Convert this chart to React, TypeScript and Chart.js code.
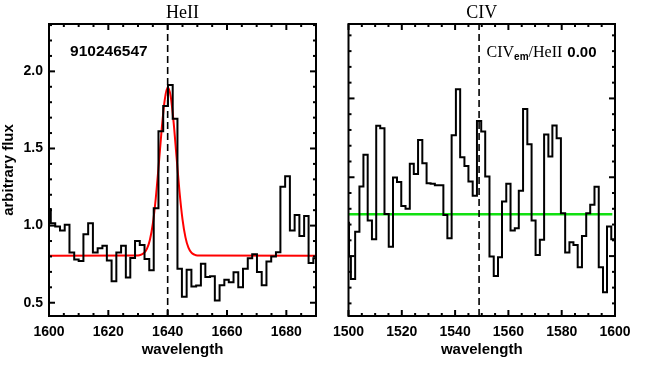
import React, { useEffect, useRef } from 'react';
import { Chart, registerables } from 'chart.js';

Chart.register(...registerables);

// ---------------- HeII panel data ----------------
const heiiBinEdges = [1599.0, 1600.6, 1602.1, 1603.7, 1605.3, 1606.9, 1608.5, 1610.0, 1611.6, 1613.2, 1614.8, 1616.4, 1618.0, 1619.5, 1621.1, 1622.7, 1624.3, 1625.9, 1627.4, 1629.0, 1630.6, 1632.2, 1633.8, 1635.3, 1636.9, 1638.5, 1640.1, 1641.7, 1643.3, 1644.8, 1646.4, 1648.0, 1649.6, 1651.2, 1652.7, 1654.3, 1655.9, 1657.5, 1659.1, 1660.6, 1662.2, 1663.8, 1665.4, 1667.0, 1668.5, 1670.1, 1671.7, 1673.3, 1674.9, 1676.5, 1678.0, 1679.6, 1681.2, 1682.8, 1684.4, 1686.0, 1687.5, 1689.1, 1690.7];
const heiiFlux = [1.107, 1.015, 0.994, 0.968, 1.006, 0.826, 0.780, 0.770, 0.944, 1.015, 0.826, 0.853, 0.869, 0.774, 0.639, 0.826, 0.869, 0.663, 0.790, 0.900, 0.875, 0.783, 0.710, 1.112, 1.611, 1.776, 1.912, 1.692, 0.720, 0.538, 0.714, 0.606, 0.611, 0.753, 0.667, 0.671, 0.514, 0.613, 0.649, 0.632, 0.697, 0.600, 0.720, 0.789, 0.815, 0.699, 0.613, 0.768, 0.800, 0.828, 1.252, 1.320, 0.968, 1.069, 0.933, 1.062, 0.757, 0.789];
const heiiFitWave = [1600, 1630, 1631, 1632, 1633, 1634, 1635, 1636, 1637, 1638, 1639, 1640, 1641, 1642, 1643, 1644, 1645, 1646, 1647, 1648, 1649, 1650, 1690];
const heiiFitFlux = [0.805, 0.807, 0.811, 0.822, 0.849, 0.907, 1.012, 1.179, 1.396, 1.628, 1.814, 1.895, 1.840, 1.671, 1.443, 1.218, 1.041, 0.924, 0.857, 0.825, 0.812, 0.807, 0.805];
const heiiLineCenter = 1640;
const heiiXRange = [1600, 1690];
const heiiYRange = [0.414, 2.307];
const heiiXTicks = [1600, 1620, 1640, 1660, 1680];
const heiiYTicks = [0.5, 1.0, 1.5, 2.0];
const heiiObjectId = '910246547';

// ---------------- CIV panel data ----------------
const civBinEdges = [1497.7, 1500.2, 1500.9, 1502.5, 1504.1, 1505.6, 1507.2, 1508.8, 1510.4, 1511.9, 1513.5, 1515.1, 1516.7, 1518.2, 1519.8, 1521.4, 1523.0, 1524.5, 1526.1, 1527.7, 1529.3, 1530.8, 1532.4, 1534.0, 1535.6, 1537.1, 1538.7, 1540.3, 1541.9, 1543.5, 1545.0, 1546.6, 1548.2, 1549.8, 1551.3, 1552.9, 1554.5, 1556.1, 1557.6, 1559.2, 1560.8, 1562.4, 1563.9, 1565.5, 1567.1, 1568.7, 1570.2, 1571.8, 1573.4, 1575.0, 1576.5, 1578.1, 1579.7, 1581.3, 1582.9, 1584.4, 1586.0, 1587.6, 1589.2, 1590.7, 1592.3, 1593.9, 1595.5, 1597.0, 1598.6, 1600.2];
const civFlux = [0.712, 0.497, 0.355, 0.655, 0.941, 1.142, 0.725, 0.607, 1.326, 1.311, 0.767, 0.560, 0.998, 0.970, 0.818, 0.801, 1.085, 1.021, 1.237, 1.089, 0.962, 0.958, 0.949, 0.950, 0.761, 0.613, 1.266, 1.558, 1.127, 1.072, 0.973, 0.882, 1.357, 1.290, 1.004, 0.497, 0.374, 0.493, 0.846, 0.958, 0.662, 0.677, 0.915, 1.433, 1.209, 0.725, 0.507, 0.603, 1.271, 1.131, 1.328, 1.247, 0.772, 0.522, 0.588, 0.571, 0.429, 0.628, 0.772, 0.825, 0.939, 0.429, 0.271, 0.687, 0.607];
const civContWave = [1500, 1599];
const civContFlux = [0.765, 0.765];
const civLineCenter = 1549;
const civXRange = [1500, 1600];
const civYRange = [0.12, 1.972];
const civXTicks = [1500, 1520, 1540, 1560, 1580, 1600];
const civRatioValue = '0.00';

const SANS = '"Liberation Sans", Arial, sans-serif';
const SERIF = '"Liberation Serif", "Times New Roman", serif';

type Part = { text: string; font: string; dy?: number; gap?: number };
type Label = { x: number; y: number; parts: Part[] };

const idlFrame = {
  id: 'idlFrame',
  afterDatasetsDraw(chart: any, _args: any, opts: any) {
    const { ctx, chartArea } = chart;
    const { left, right, top, bottom } = chartArea;
    const xs = chart.scales.x;
    const ys = chart.scales.y;
    ctx.save();
    ctx.strokeStyle = '#000';
    ctx.lineWidth = 2;
    ctx.lineCap = 'butt';
    const seg = (x1: number, y1: number, x2: number, y2: number) => {
      ctx.beginPath();
      ctx.moveTo(x1, y1);
      ctx.lineTo(x2, y2);
      ctx.stroke();
    };
    // x ticks
    const xi0 = Math.ceil(xs.min / opts.xMinor - 1e-6);
    for (let i = xi0; i * opts.xMinor <= xs.max + 1e-6; i++) {
      const v = i * opts.xMinor;
      const major = Math.abs(v / opts.xMajor - Math.round(v / opts.xMajor)) < 1e-6;
      const len = major ? 6 : 3;
      const px = xs.getPixelForValue(v);
      seg(px, bottom, px, bottom - len);
      seg(px, top, px, top + len);
    }
    const yi0 = Math.ceil(ys.min / opts.yMinor - 1e-6);
    for (let i = yi0; i * opts.yMinor <= ys.max + 1e-6; i++) {
      const v = i * opts.yMinor;
      const major = Math.abs(v / opts.yMajor - Math.round(v / opts.yMajor)) < 1e-6;
      const len = major ? 6 : 3;
      const py = ys.getPixelForValue(v);
      seg(left, py, left + len, py);
      seg(right, py, right - len, py);
    }
    ctx.strokeRect(left, top, right - left, bottom - top);
    // labels
    ctx.fillStyle = '#000';
    ctx.textBaseline = 'middle';
    ctx.textAlign = 'left';
    (opts.labels || []).forEach((lab: Label) => {
      let px = xs.getPixelForValue(lab.x);
      const py = ys.getPixelForValue(lab.y);
      lab.parts.forEach((p) => {
        ctx.font = p.font;
        px += p.gap || 0;
        ctx.fillText(p.text, px, py + (p.dy || 0));
        px += ctx.measureText(p.text).width;
      });
    });
    ctx.restore();
  },
};

function stepPoints(edges: number[], vals: number[]) {
  return edges.map((x, i) => ({ x, y: vals[Math.min(i, vals.length - 1)] }));
}

function pairPoints(xs: number[], ys: number[]) {
  return xs.map((x, i) => ({ x, y: ys[i] }));
}

function makeConfig(panel: 'heii' | 'civ'): any {
  const isHe = panel === 'heii';
  const xr = isHe ? heiiXRange : civXRange;
  const yr = isHe ? heiiYRange : civYRange;
  const center = isHe ? heiiLineCenter : civLineCenter;
  const datasets: any[] = [
    {
      data: stepPoints(isHe ? heiiBinEdges : civBinEdges, isHe ? heiiFlux : civFlux),
      borderColor: '#000',
      borderWidth: 2,
      stepped: 'before',
      pointRadius: 0,
      clip: 0,
    },
    {
      data: [
        { x: center, y: yr[0] },
        { x: center, y: yr[1] },
      ],
      borderColor: '#000',
      borderWidth: 1.6,
      borderDash: [7, 4],
      pointRadius: 0,
      clip: 0,
    },
  ];
  if (isHe) {
    datasets.push({
      data: pairPoints(heiiFitWave, heiiFitFlux),
      borderColor: '#ff0000',
      borderWidth: 2,
      cubicInterpolationMode: 'monotone',
      pointRadius: 0,
      clip: 0,
    });
  } else {
    datasets.push({
      data: pairPoints(civContWave, civContFlux),
      borderColor: '#11e011',
      borderWidth: 2.5,
      pointRadius: 0,
      clip: 0,
    });
  }
  const tickFont = { family: SANS, size: 14, weight: 'bold' as const };
  const labels: Label[] = isHe
    ? [{ x: 1607.1, y: 2.128, parts: [{ text: heiiObjectId, font: `bold 15.5px ${SANS}` }] }]
    : [
        {
          x: 1551.8,
          y: 1.79,
          parts: [
            { text: 'CIV', font: `16px ${SERIF}` },
            { text: 'em', font: `bold 10px ${SANS}`, dy: 5 },
            { text: '/HeII', font: `16px ${SERIF}` },
            { text: civRatioValue, font: `bold 15px ${SANS}`, gap: 5 },
          ],
        },
      ];
  return {
    type: 'line',
    data: { datasets },
    options: {
      animation: false,
      responsive: false,
      maintainAspectRatio: false,
      layout: { padding: isHe ? { left: 0, right: 14, top: 0, bottom: 0 } : { left: 32.5, right: 49, top: 0, bottom: 0 } },
      plugins: {
        legend: { display: false },
        tooltip: { enabled: false },
        title: {
          display: true,
          text: isHe ? 'HeII' : 'CIV',
          color: '#000',
          font: { family: SERIF, size: 18, weight: 'normal', lineHeight: 1.2 },
          padding: { top: 2, bottom: 0.4 },
          fullSize: false,
        },
        idlFrame: { xMajor: 20, xMinor: 5, yMajor: 0.5, yMinor: 0.1, labels },
      },
      scales: {
        x: {
          type: 'linear',
          min: xr[0],
          max: xr[1],
          grid: { display: false, drawTicks: false },
          border: { display: false },
          afterBuildTicks: (s: any) => {
            s.ticks = (isHe ? heiiXTicks : civXTicks).map((v) => ({ value: v }));
          },
          afterFit: (s: any) => {
            s.height = 53;
          },
          ticks: { color: '#000', font: tickFont, padding: 8, maxRotation: 0, autoSkip: false, callback: (v: any) => String(v) },
          title: {
            display: true,
            text: 'wavelength',
            color: '#000',
            font: { family: SANS, size: 15, weight: 'bold', lineHeight: 1.2 },
            padding: { top: 0, bottom: 10 },
          },
        },
        y: {
          type: 'linear',
          display: isHe,
          min: yr[0],
          max: yr[1],
          grid: { display: false, drawTicks: false },
          border: { display: false },
          afterBuildTicks: (s: any) => {
            if (isHe) s.ticks = heiiYTicks.map((v) => ({ value: v }));
          },
          afterFit: (s: any) => {
            if (isHe) s.width = 49;
          },
          ticks: { color: '#000', font: tickFont, padding: 6, callback: (v: any) => Number(v).toFixed(1) },
          title: {
            display: isHe,
            text: 'arbitrary flux',
            color: '#000',
            font: { family: SANS, size: 15, weight: 'bold', lineHeight: 1.2 },
            padding: { top: 0, bottom: 0 },
          },
        },
      },
    },
    plugins: [idlFrame],
  };
}

function Panel({ panel, left, width }: { panel: 'heii' | 'civ'; left: number; width: number }) {
  const ref = useRef<HTMLCanvasElement | null>(null);
  useEffect(() => {
    if (!ref.current) return;
    const chart = new Chart(ref.current, makeConfig(panel));
    return () => chart.destroy();
  }, [panel]);
  return (
    <canvas
      ref={ref}
      width={width}
      height={369}
      style={{ position: 'absolute', left, top: 0, width, height: 369 }}
    />
  );
}

export default function App() {
  return (
    <div style={{ position: 'absolute', left: 0, top: 0, width: 664, height: 369, background: '#fff' }}>
      <Panel panel="heii" left={0} width={330} />
      <Panel panel="civ" left={316} width={348} />
    </div>
  );
}
